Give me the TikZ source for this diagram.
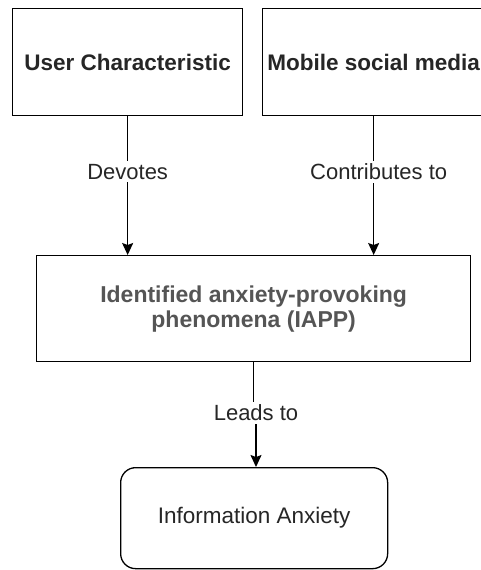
\documentclass[tikz,border=0pt]{standalone}
\usepackage{fontspec}
\setmainfont{Liberation Sans}
\usetikzlibrary{arrows.meta}
\definecolor{txtdark}{HTML}{262626}
\definecolor{txtgray}{HTML}{555555}
\begin{document}
\begin{tikzpicture}[x=1pt,y=-1pt,
  box/.style={draw=black, line width=1.3pt, inner sep=0pt, align=center},
  lbl/.style={fill=white, text=txtdark, font=\fontsize{22}{26}\selectfont, inner sep=3pt},
  link/.style={draw=black, line width=1.3pt},
  conn/.style={link, -{Stealth[length=12pt,width=11pt,inset=2pt]}},
]
\useasboundingbox (0,0) rectangle (481,570);
\clip (0,0) rectangle (481,570);
\fill[white] (0,0) rectangle (481,570);

\node[box, minimum width=230pt, minimum height=107pt, anchor=north west,
      font=\bfseries\fontsize{22.5}{26}\selectfont, text=txtdark] (uc) at (12,8) {User Characteristic};
\node[box, minimum width=222pt, minimum height=107pt, anchor=north west,
      font=\bfseries\fontsize{22.5}{26}\selectfont, text=txtdark] (ms) at (262,8) {Mobile social media};

\node[box, minimum width=434pt, minimum height=106pt, anchor=north west,
      font=\bfseries\fontsize{23}{25}\selectfont, text=txtgray] (iapp) at (36,255)
      {Identified anxiety-provoking\\phenomena (IAPP)};

\node[box, rounded corners=15pt, minimum width=267pt, minimum height=101pt, anchor=north west,
      font=\fontsize{22.5}{26}\selectfont, text=txtdark] (ia) at (120,467) {Information Anxiety};

\draw[conn] (uc.south) -- node[lbl, pos=0.4] {Devotes} (uc.south |- iapp.north);
\draw[conn] (ms.south) -- node[lbl, pos=0.4, xshift=5pt] {Contributes to} (ms.south |- iapp.north);

\node[lbl] (lt) at (256,413) {Leads to};
\draw[link] (iapp.south) -- (iapp.south |- lt.north);
\draw[conn] (lt.south) -- (lt.south |- ia.north);
\end{tikzpicture}
\end{document}
